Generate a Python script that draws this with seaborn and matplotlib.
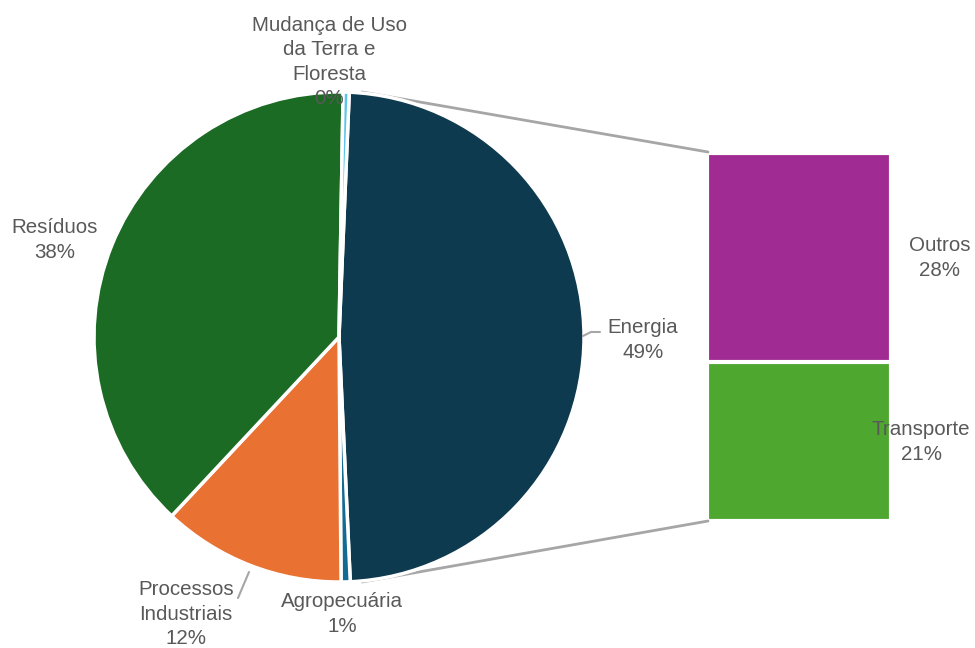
import matplotlib
matplotlib.use("Agg")
import matplotlib.pyplot as plt
import seaborn as sns

# Emissões por setor (%), com o detalhamento do setor de Energia
setores = ["Energia", "Agropecuária", "Processos\nIndustriais", "Resíduos",
           "Mudança de Uso\nda Terra e\nFloresta"]
participacao = [48.6, 0.6, 12.1, 38.3, 0.4]
cores_setores = ["#0E3A4F", "#156A94", "#E97132", "#1B6B24", "#5BC4EA"]

subsetores = ["Transporte", "Outros"]
participacao_energia = [20.9, 27.7]
cores_subsetores = ["#4EA72E", "#A02B93"]

sns.set_theme(style="white")
plt.rcParams["font.family"] = ["Liberation Sans", "DejaVu Sans"]

W, H = 975, 648
fig = plt.figure(figsize=(W / 100, H / 100), dpi=100)

# Barra empilhada com o detalhamento de Energia (desenhada por baixo dos rótulos)
bx0, bx1, by0, by1 = 706.5, 890.5, 152.5, 520.5
bax = fig.add_axes([bx0 / W, (H - by1) / H, (bx1 - bx0) / W, (by1 - by0) / H])
bax.set_zorder(0)
total = sum(participacao_energia)
sns.barplot(x=["Energia"], y=[total], color=cores_subsetores[1], saturation=1,
            width=1, edgecolor="white", linewidth=3, ax=bax)
sns.barplot(x=["Energia"], y=[participacao_energia[0]], color=cores_subsetores[0],
            saturation=1, width=1, edgecolor="white", linewidth=3, ax=bax)
bax.set_xlim(-0.5, 0.5)
bax.set_ylim(0, total)
bax.axis("off")

ax = fig.add_axes([0, 0, 1, 1])
ax.set_zorder(1)
ax.patch.set_alpha(0)

def py(y):
    # linha em pixels (a partir do topo) -> coordenada y do eixo
    return H - y

cx, cy, r = 339, py(337), 245
texto = "#595959"
linha = "#A6A6A6"

ax.pie(participacao, colors=cores_setores, startangle=87.6, counterclock=False,
       center=(cx, cy), radius=r, frame=True,
       wedgeprops=dict(edgecolor="white", linewidth=2.5))
ax.set_xlim(0, W)
ax.set_ylim(0, H)
ax.set_aspect("equal")
ax.axis("off")

# Linhas que ligam a fatia de Energia à barra de detalhamento
ax.plot([362, 708], [py(92), py(152)], color=linha, lw=2, zorder=0)
ax.plot([362, 708], [py(582), py(521)], color=linha, lw=2, zorder=0)

# Linhas de chamada
ax.plot([583, 591, 600], [py(336), py(332), py(332)], color=linha, lw=1.5, zorder=3)
ax.plot([249, 238], [py(572), py(598)], color=linha, lw=1.5, zorder=3)

def rotulo(nome, valor):
    return f"{nome}\n{valor:.0f}%"

estilo = dict(ha="center", va="center", fontsize=14.8, color=texto,
              linespacing=1.36, zorder=5)

posicoes = [(643, 340), (342, 614), (186, 614), (55, 240), (329, 62)]
for nome, valor, (x, y) in zip(setores, participacao, posicoes):
    ax.text(x, py(y), rotulo(nome, valor), **estilo)

sub_pos = [(921, 442), (940, 258)]
for nome, valor, (x, y) in zip(subsetores, participacao_energia, sub_pos):
    ax.text(x, py(y), rotulo(nome, valor), **estilo)

fig.savefig("out.png", dpi=100)
